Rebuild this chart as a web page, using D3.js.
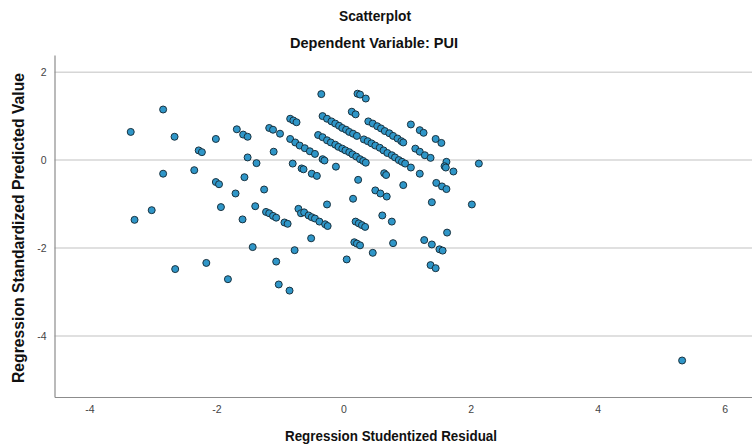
<!DOCTYPE html>
<html>
<head>
<meta charset="utf-8">
<script src="https://cdn.jsdelivr.net/npm/d3@7/dist/d3.min.js"></script>
<style>
  html, body { margin: 0; padding: 0; background: #ffffff; }
  svg { display: block; }
</style>
</head>
<body>
<svg id="chart" width="752" height="447"></svg>
<script>
// ---- Data ----
const titleText = "Scatterplot";
const subtitleText = "Dependent Variable: PUI";
const xLabel = "Regression Studentized Residual";
const yLabel = "Regression Standardized Predicted Value";

const xTicks = [-4, -2, 0, 2, 4, 6];
const yTicks = [2, 0, -2, -4];

// Regression Studentized Residual
const residual = [
  -0.35, -2.84, -3.35, -2.66, -2.28, -2.23, -2.01, -1.68, -1.58, -1.51,
  -1.17, -1.11, -1.00, -0.84, -0.79, -0.74, -0.84, -0.76, -0.69, -0.61,
  -0.53, -0.45, -1.10, -1.51, -1.37, -0.80, -0.66, -0.63, -0.50, -0.42,
  -2.84, -2.35, -2.01, -1.96, -1.56, -1.25, -1.70, -1.93, -3.02, -3.29,
  -1.39, -1.59, -1.22, -1.17, -1.11, -1.06, -0.93, -0.88, -0.71, -0.67,
  -0.62, -0.55, -0.50, -0.45, -0.38, -0.29, -0.25, -0.26, -0.51, -1.43,
  -0.77, -2.65, -2.16, -1.06, -1.82, -1.02, -0.85,
  0.22, 0.26, 0.35, 0.13, 0.19,
  -0.33, -0.26, -0.19, -0.13, -0.07, -0.02, 0.04, 0.09, 0.15, 0.21,
  -0.40, -0.33, -0.26, -0.20, -0.13, -0.08, -0.02, 0.03, 0.09, 0.14, 0.20, 0.26, 0.31, 0.35,
  0.39, 0.46, 0.53, 0.59, 0.65, 0.72, 0.78, 0.85, 0.91, 0.94,
  0.32, 0.38, 0.44, 0.50, 0.57, 0.63, 0.69, 0.76, 0.81, 0.87, 0.92, 0.97,
  1.06, 1.20, 1.26, 1.45, 1.54, 1.13, 1.20, 1.28, 1.37, 1.62,
  1.59, 1.61, 1.73, 2.13, 1.06, 1.20, 0.64, 0.67, 0.94, 1.46,
  1.55, 1.62, 0.23, -0.12, -0.33, -0.30, 0.50, 0.58, 0.68, 0.15,
  1.39, 2.02, 0.61, 0.76, 0.19, 0.24, 0.29, 0.34, 1.63, 0.17,
  0.21, 0.26, 0.78, 1.27, 1.39, 1.51, 1.56, 0.05, 0.46, 1.37,
  1.45, 5.33
];

// Regression Standardized Predicted Value
const predicted = [
  1.50, 1.15, 0.64, 0.53, 0.22, 0.18, 0.48, 0.70, 0.58, 0.53,
  0.73, 0.69, 0.60, 0.94, 0.90, 0.86, 0.48, 0.40, 0.33, 0.27,
  0.20, 0.14, 0.19, 0.06, -0.07, -0.08, -0.19, -0.21, -0.31, -0.36,
  -0.31, -0.23, -0.50, -0.55, -0.39, -0.67, -0.76, -1.07, -1.14, -1.36,
  -1.05, -1.35, -1.18, -1.21, -1.27, -1.31, -1.42, -1.45, -1.11, -1.21,
  -1.19, -1.26, -1.30, -1.33, -1.40, -1.46, -1.50, -1.01, -1.78, -1.98,
  -2.05, -2.48, -2.34, -2.31, -2.71, -2.83, -2.97,
  1.51, 1.49, 1.40, 1.10, 1.04,
  1.00, 0.94, 0.88, 0.83, 0.78, 0.73, 0.69, 0.64, 0.60, 0.55,
  0.57, 0.52, 0.45, 0.40, 0.35, 0.30, 0.26, 0.22, 0.18, 0.13, 0.08, 0.02, -0.02, -0.06,
  0.88, 0.83, 0.77, 0.72, 0.66, 0.61, 0.55, 0.49, 0.43, 0.40,
  0.47, 0.43, 0.38, 0.33, 0.28, 0.22, 0.16, 0.11, 0.06, 0.00, -0.04, -0.08,
  0.81, 0.68, 0.62, 0.48, 0.39, 0.26, 0.19, 0.11, 0.05, -0.04,
  -0.14, -0.17, -0.26, -0.08, -0.17, -0.31, -0.30, -0.34, -0.57, -0.52,
  -0.60, -0.66, -0.45, -0.15, 0.02, -0.01, -0.69, -0.76, -0.83, -0.88,
  -0.96, -1.01, -1.26, -1.40, -1.40, -1.44, -1.48, -1.52, -1.65, -1.87,
  -1.90, -1.94, -1.89, -1.82, -1.92, -2.03, -2.06, -2.26, -2.11, -2.39,
  -2.46, -4.56
];

// ---- Chart ----
const svg = d3.select("#chart");
const fontFamily = "'Liberation Sans Narrow', 'Liberation Sans', Arial, sans-serif";

const x = d3.scaleLinear().domain([-4.55, 6.43]).range([54.5, 752]);
const y = d3.scaleLinear().domain([-5.39, 2.39]).range([397, 55]);

// gridlines
svg.append("g")
  .selectAll("line")
  .data(yTicks)
  .join("line")
  .attr("x1", x.range()[0])
  .attr("x2", x.range()[1])
  .attr("y1", d => y(d))
  .attr("y2", d => y(d))
  .attr("stroke", "#d6d6d6")
  .attr("stroke-width", 1.5);

// axes
const yAxis = svg.append("g")
  .attr("transform", `translate(${x.range()[0]},0)`)
  .call(d3.axisLeft(y).tickValues(yTicks).tickSize(0).tickPadding(8).tickFormat(d3.format("d")));
const xAxis = svg.append("g")
  .attr("transform", `translate(0,${y.range()[0]})`)
  .call(d3.axisBottom(x).tickValues(xTicks).tickSize(0).tickPadding(9).tickFormat(d3.format("d")));

[xAxis, yAxis].forEach(g => {
  g.select(".domain").attr("stroke", "#8c8c8c").attr("stroke-width", 1.2);
  g.selectAll("text")
    .attr("font-family", fontFamily)
    .attr("font-size", 10.5)
    .attr("fill", "#444444")
    .text(d => String(d));
});

// points
const pts = residual.map((r, i) => ({ r, p: predicted[i] }));
svg.append("g")
  .selectAll("circle")
  .data(pts)
  .join("circle")
  .attr("cx", d => x(d.r))
  .attr("cy", d => y(d.p))
  .attr("r", 3.5)
  .attr("fill", "#2f96c8")
  .attr("stroke", "#19323f")
  .attr("stroke-width", 1);

// titles
svg.append("text")
  .attr("x", 375).attr("y", 21)
  .attr("text-anchor", "middle")
  .attr("font-family", fontFamily)
  .attr("font-weight", "bold")
  .attr("font-size", 14.5)
  .attr("fill", "#111111")
  .attr("textLength", 72).attr("lengthAdjust", "spacingAndGlyphs")
  .text(titleText);

svg.append("text")
  .attr("x", 374).attr("y", 48)
  .attr("text-anchor", "middle")
  .attr("font-family", fontFamily)
  .attr("font-weight", "bold")
  .attr("font-size", 14.5)
  .attr("fill", "#111111")
  .attr("textLength", 168).attr("lengthAdjust", "spacingAndGlyphs")
  .text(subtitleText);

svg.append("text")
  .attr("x", 391).attr("y", 441)
  .attr("text-anchor", "middle")
  .attr("font-family", fontFamily)
  .attr("font-weight", "bold")
  .attr("font-size", 15)
  .attr("fill", "#111111")
  .attr("textLength", 212).attr("lengthAdjust", "spacingAndGlyphs")
  .text(xLabel);

svg.append("text")
  .attr("transform", `translate(24,228) rotate(-90)`)
  .attr("text-anchor", "middle")
  .attr("font-family", fontFamily)
  .attr("font-weight", "bold")
  .attr("font-size", 16.5)
  .attr("fill", "#111111")
  .attr("textLength", 310).attr("lengthAdjust", "spacingAndGlyphs")
  .text(yLabel);
</script>
</body>
</html>
